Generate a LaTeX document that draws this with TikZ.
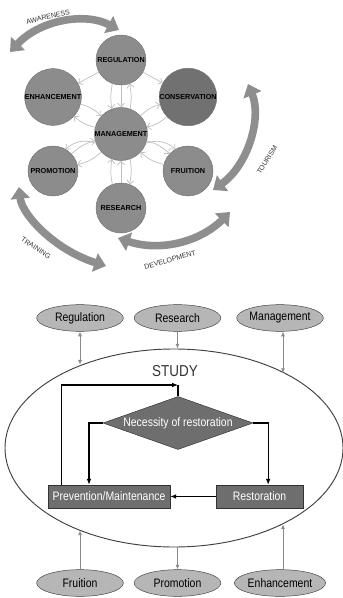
\documentclass[tikz,border=0pt]{standalone}
\usepackage{fontspec}
\setmainfont{Liberation Sans}
\newfontfamily\narrowfont{Liberation Sans}[FakeStretch=0.85]
\usepackage{tikz}
\usetikzlibrary{arrows.meta,shapes.geometric}
\definecolor{circcol}{HTML}{8C8C8C}
\definecolor{conscol}{HTML}{717171}
\definecolor{bandcol}{HTML}{8E8E8E}
\definecolor{webcol}{HTML}{BEBEBE}
\definecolor{ovalcol}{HTML}{B6B6B6}
\definecolor{boxcol}{HTML}{6E6E6E}
\definecolor{linkcol}{HTML}{8A8A8A}

\begin{document}
\begin{tikzpicture}[x=0.03cm, y=-0.03cm,
  disc/.style={circle, draw=black!55, fill=circcol, minimum size=1.5cm, inner sep=0pt,
    font=\fontsize{6.2}{7}\selectfont\bfseries},
  band/.style={bandcol, line width=6.5pt,
    {Triangle[width=16pt,length=10pt]}-{Triangle[width=16pt,length=10pt]}},
  bandlabel/.style={font=\fontsize{6}{7}\selectfont, text=black!80},
  web/.style={webcol, line width=0.6pt, -{Straight Barb[length=3pt]}},
  oval/.style={ellipse, draw=black!75, fill=ovalcol, minimum width=2.6cm,
    minimum height=0.8cm, inner sep=0pt, font=\narrowfont\fontsize{10.5}{12}\selectfont},
  box/.style={rectangle, draw=black!80, fill=boxcol, text=white, minimum height=0.69cm,
    inner sep=0pt, font=\narrowfont\fontsize{10.5}{12}\selectfont},
  link/.style={linkcol, line width=0.8pt, -{Latex[length=4pt,width=3.5pt]}},
  flow/.style={black, line width=1pt, -{Latex[length=5pt,width=4pt]}}]

  \useasboundingbox (0,0) rectangle (343,598);

  % Upper diagram: circles.
  \node[disc] (reg)  at (121,60)  {REGULATION};
  \node[disc] (enh)  at (53,97)   {ENHANCEMENT};
  \node[disc, fill=conscol] (cons) at (188,97) {CONSERVATION};
  \node[disc] (mgmt) at (121,134) {MANAGEMENT};
  \node[disc] (prom) at (53,171)  {PROMOTION};
  \node[disc] (fru)  at (188,171) {FRUITION};
  \node[disc] (res)  at (121,208) {RESEARCH};

  % Thin links round the management circle.
  \foreach \n in {enh,cons,prom,fru} {
    \draw[web] (mgmt) to[bend left=14] (\n);
    \draw[web] (\n) to[bend left=14] (mgmt);
  }
  \draw[web] (reg) -- (mgmt);
  \draw[web] (reg.250) to[bend right=10] (mgmt.110);
  \draw[web] (mgmt.70) to[bend right=10] (reg.290);
  \draw[web] (res) -- (mgmt);
  \draw[web] (res.110) to[bend left=10] (mgmt.250);
  \draw[web] (mgmt.290) to[bend left=10] (res.70);
  \draw[web] (reg) -- (enh);
  \draw[web] (reg) -- (cons);
  \draw[web] (mgmt.200) to[bend right=30] (prom.60);
  \draw[web] (mgmt.340) to[bend left=30] (fru.120);

  % Broad arrows and their labels.
  \draw[band] (10,52) .. controls (40,20) and (85,12) .. (119,30);
  \draw[band] (248,84) .. controls (262,118) and (248,165) .. (213,190);
  \draw[band] (118,238) .. controls (160,252) and (200,242) .. (230,212);
  \draw[band] (19,187) .. controls (22,215) and (55,250) .. (106,266);

  \node[bandlabel, rotate=13]  (aw)  at (48,17)  {AWARENESS};
  \node[bandlabel, rotate=58]  (tou) at (267,160) {TOURISM};
  \node[bandlabel, rotate=16]  (dev) at (170,260) {DEVELOPMENT};
  \node[bandlabel, rotate=-33] (tra) at (36,248) {TRAINING};

  % Lower diagram: surrounding ovals.
  \node[oval] (lreg)  at (80,318)    {Regulation};
  \node[oval] (lres)  at (177.5,318) {Research};
  \node[oval] (lmgmt) at (280,318)   {Management};
  \node[oval] (lfru)  at (80,583)    {Fruition};
  \node[oval] (lprom) at (177.5,583) {Promotion};
  \node[oval] (lenh)  at (280,583)   {Enhancement};

  % Study ellipse.
  \node[ellipse, draw=black!75, line width=0.8pt, minimum width=10.14cm,
    minimum height=5.94cm, inner sep=0pt] (study) at (174,448) {};
  \node[font=\narrowfont\fontsize{13.5}{15}\selectfont, text=black!80] (studylbl) at (175,371) {STUDY};

  % Links between ovals and study.
  \coordinate (rx) at (283,0);
  \draw[link, {Latex[length=4pt,width=3.5pt]}-{Latex[length=4pt,width=3.5pt]}]
    (lreg.south) -- (lreg.south |- study.138.8);
  \draw[link] (lres.south) -- (lres.south |- study.north);
  \draw[link, {Latex[length=4pt,width=3.5pt]}-{Latex[length=4pt,width=3.5pt]}]
    (rx |- lmgmt.south) -- (rx |- study.34.8);
  \draw[link] (lfru.north) -- (lfru.north |- study.221.2);
  \draw[link] (lprom.north |- study.south) -- (lprom.north);
  \draw[link] (rx |- lenh.north) -- (rx |- study.325.2);

  % Restoration flow.
  \node[diamond, draw=black!80, fill=boxcol, text=white, aspect=2.8, inner sep=0pt,
    minimum width=4.5cm, minimum height=1.59cm,
    font=\narrowfont\fontsize{10.5}{12}\selectfont] (dia) at (178,423) {Necessity of restoration};
  \node[box, minimum width=3.66cm] (prev) at (109,496.5) {Prevention/Maintenance};
  \node[box, minimum width=2.61cm] (rest) at (259.5,496.5) {Restoration};
  \coordinate (loop) at (178,385);

  \draw[flow] ([xshift=0.42cm]prev.north west) |- (loop);
  \draw[black, line width=1pt] (dia.north) -- (loop);
  \draw[flow] (dia.west) -| ([xshift=-0.6cm]prev.north);
  \draw[flow] (dia.east) -| ([xshift=0.26cm]rest.north);
  \draw[flow] (rest.west) -- (prev.east);

\end{tikzpicture}
\end{document}
